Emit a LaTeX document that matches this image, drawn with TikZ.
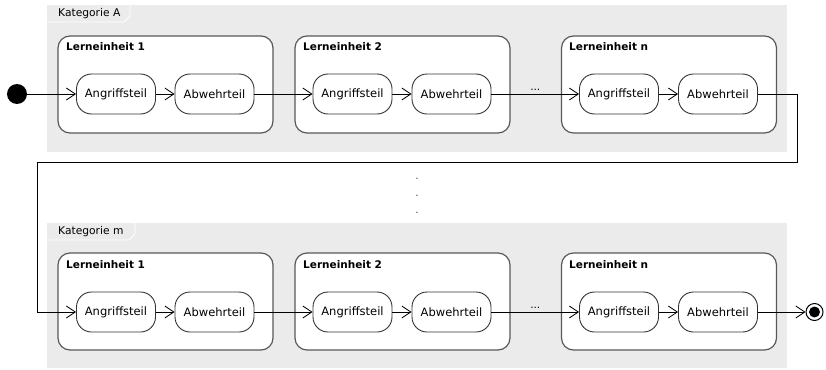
\documentclass[tikz,border=0pt]{standalone}
\usepackage{fontspec}
\setmainfont{DejaVu Sans}
\usetikzlibrary{arrows.meta}

\tikzset{
  kategorie/.style={fill=black!8, draw=none},
  reiter/.style={draw=white, line width=0.8pt},
  katname/.style={anchor=west, inner sep=0pt, font=\fontsize{10.7}{12}\selectfont},
  einheit/.style={draw=black!65, line width=1.2pt, rounded corners=12pt, fill=white,
    minimum width=215pt, minimum height=97pt, inner sep=0pt},
  titel/.style={anchor=west, inner sep=0pt, font=\fontsize{10.5}{12}\selectfont\bfseries},
  teil/.style={draw=black!80, line width=0.9pt, rounded corners=15pt, fill=white,
    minimum width=79pt, minimum height=40pt, inner sep=0pt, font=\fontsize{11.5}{13}\selectfont},
  pfeil/.style={-{Straight Barb[length=9pt,width=12pt]}, line width=0.8pt},
  luecke/.style={above, inner sep=3pt, font=\fontsize{10.5}{12}\selectfont},
}

\begin{document}
\begin{tikzpicture}[x=1pt,y=-1pt]
\useasboundingbox (0,0) rectangle (826,369);

% Kategorie A
\fill[kategorie] (47,5) rectangle (787,152);
\draw[reiter] (130,5) -- (130,16) -- (124,22) -- (47,22);
\node[katname] (katA) at (58,14) {Kategorie A};

\node[einheit] (einA1) at (165.5,84.5) {};
\node[einheit] (einA2) at (402.5,84.5) {};
\node[einheit] (einAn) at (669,84.5) {};
\node[titel] (titA1) at (66,47) {Lerneinheit 1};
\node[titel] (titA2) at (303,47) {Lerneinheit 2};
\node[titel] (titAn) at (569,47) {Lerneinheit n};

\node[teil] (angA1) at (116,94) {Angriffsteil};
\node[teil] (abwA1) at (214.5,94) {Abwehrteil};
\node[teil] (angA2) at (352.5,94) {Angriffsteil};
\node[teil] (abwA2) at (451.5,94) {Abwehrteil};
\node[teil] (angAn) at (619,94) {Angriffsteil};
\node[teil] (abwAn) at (718,94) {Abwehrteil};

% Kategorie m
\fill[kategorie] (47,223) rectangle (787,368);
\draw[reiter] (135,223) -- (135,234) -- (129,240) -- (47,240);
\node[katname] (katM) at (58,231.5) {Kategorie m};

\node[einheit] (einM1) at (165.5,301.5) {};
\node[einheit] (einM2) at (402.5,301.5) {};
\node[einheit] (einMn) at (669,301.5) {};
\node[titel] (titM1) at (66,265) {Lerneinheit 1};
\node[titel] (titM2) at (303,265) {Lerneinheit 2};
\node[titel] (titMn) at (569,265) {Lerneinheit n};

\node[teil] (angM1) at (116,312) {Angriffsteil};
\node[teil] (abwM1) at (214.5,312) {Abwehrteil};
\node[teil] (angM2) at (352.5,312) {Angriffsteil};
\node[teil] (abwM2) at (451.5,312) {Abwehrteil};
\node[teil] (angMn) at (619,312) {Angriffsteil};
\node[teil] (abwMn) at (718,312) {Abwehrteil};

% Start, Ende, Punkte
\node[circle, fill=black, minimum size=20pt, inner sep=0pt] (start) at (17,94) {};
\node[circle, draw=black, line width=1pt, fill=white, minimum size=17pt, inner sep=0pt] (ende) at (814.5,312) {};
\node[circle, fill=black, minimum size=11pt, inner sep=0pt] (endekern) at (ende) {};
\node[align=center, text=black!70, font=\fontsize{10.5}{17}\selectfont] (punkte) at (417,196) {.\\.\\.};

\coordinate (rechts) at (797,162);
\coordinate (links) at (37,162);

\draw[pfeil] (start) -- (angA1);
\draw[pfeil] (angA1) -- (abwA1);
\draw[pfeil] (abwA1) -- (angA2);
\draw[pfeil] (angA2) -- (abwA2);
\draw[pfeil] (abwA2) -- node[luecke] (lueckeA) {...} (angAn);
\draw[pfeil] (angAn) -- (abwAn);
\draw[pfeil] (abwAn.east) -| (rechts) -- (links) |- (angM1.west);
\draw[pfeil] (angM1) -- (abwM1);
\draw[pfeil] (abwM1) -- (angM2);
\draw[pfeil] (angM2) -- (abwM2);
\draw[pfeil] (abwM2) -- node[luecke] (lueckeM) {...} (angMn);
\draw[pfeil] (angMn) -- (abwMn);
\draw[pfeil] (abwMn) -- (ende);
\end{tikzpicture}
\end{document}
